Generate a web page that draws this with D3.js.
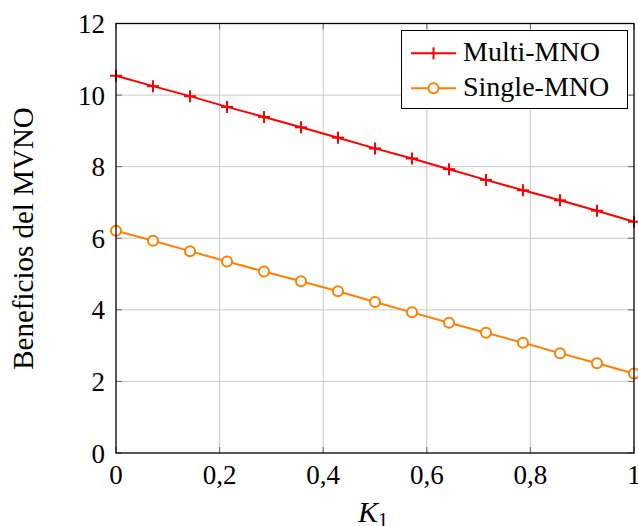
<!DOCTYPE html>
<html>
<head>
<meta charset="utf-8">
<script src="https://cdn.jsdelivr.net/npm/d3@7"></script>
<style>
body { margin: 0; background: #fff; }
</style>
</head>
<body>
<svg width="638" height="526" font-family="'Liberation Serif', 'Times New Roman', 'DejaVu Serif', serif"></svg>
<script>
var xValues = [0, 1/14, 2/14, 3/14, 4/14, 5/14, 6/14, 7/14, 8/14, 9/14, 10/14, 11/14, 12/14, 13/14, 1];
var multiMNO = [10.54, 10.25, 9.97, 9.67, 9.39, 9.10, 8.81, 8.51, 8.23, 7.93, 7.63, 7.34, 7.06, 6.77, 6.46];
var singleMNO = [6.21, 5.93, 5.64, 5.35, 5.07, 4.80, 4.52, 4.22, 3.93, 3.64, 3.36, 3.08, 2.79, 2.51, 2.22];
var xTicks = [0, 0.2, 0.4, 0.6, 0.8, 1];
var yTicks = [0, 2, 4, 6, 8, 10, 12];
var seriesNames = ["Multi-MNO", "Single-MNO"];

var svg = d3.select("svg");
var plotLeft = 116, plotRight = 634, plotTop = 23.5, plotBottom = 453;

var x = d3.scaleLinear().domain([0, 1]).range([plotLeft, plotRight]);
var y = d3.scaleLinear().domain([0, 12]).range([plotBottom, plotTop]);

var fmt = function(d) { return String(d).replace(".", ","); };

// grid
svg.append("g").selectAll("line").data(xTicks.slice(1, -1)).enter().append("line")
	.attr("x1", function(d) { return x(d); }).attr("x2", function(d) { return x(d); })
	.attr("y1", plotTop).attr("y2", plotBottom)
	.style("stroke", "#c8c8c8").style("stroke-width", 1);
svg.append("g").selectAll("line").data(yTicks.slice(1, -1)).enter().append("line")
	.attr("y1", function(d) { return y(d); }).attr("y2", function(d) { return y(d); })
	.attr("x1", plotLeft).attr("x2", plotRight)
	.style("stroke", "#c8c8c8").style("stroke-width", 1);

// inner ticks
var tickLen = 6;
var tk = svg.append("g").style("stroke", "#666").style("stroke-width", 1);
xTicks.forEach(function(d) {
	tk.append("line").attr("x1", x(d)).attr("x2", x(d)).attr("y1", plotBottom).attr("y2", plotBottom - tickLen);
	tk.append("line").attr("x1", x(d)).attr("x2", x(d)).attr("y1", plotTop).attr("y2", plotTop + tickLen);
});
yTicks.forEach(function(d) {
	tk.append("line").attr("y1", y(d)).attr("y2", y(d)).attr("x1", plotLeft).attr("x2", plotLeft + tickLen);
	tk.append("line").attr("y1", y(d)).attr("y2", y(d)).attr("x1", plotRight).attr("x2", plotRight - tickLen);
});

// tick labels
svg.append("g").selectAll("text").data(xTicks).enter().append("text")
	.attr("x", function(d) { return x(d); }).attr("y", plotBottom + 31)
	.attr("text-anchor", "middle").attr("font-size", 27)
	.text(fmt);
svg.append("g").selectAll("text").data(yTicks).enter().append("text")
	.attr("x", plotLeft - 11).attr("y", function(d) { return y(d) + 9.5; })
	.attr("text-anchor", "end").attr("font-size", 27)
	.text(fmt);

// lines
var line = d3.line()
	.x(function(d, i) { return x(xValues[i]); })
	.y(function(d) { return y(d); });

svg.append("path").datum(multiMNO).attr("d", line)
	.style("fill", "none").style("stroke", "#ff0000").style("stroke-width", 2);
svg.append("path").datum(singleMNO).attr("d", line)
	.style("fill", "none").style("stroke", "#ff8000").style("stroke-width", 2);

// markers
var plus = svg.append("g").style("stroke", "#ff0000").style("stroke-width", 2);
multiMNO.forEach(function(d, i) {
	plus.append("line").attr("x1", x(xValues[i])).attr("x2", x(xValues[i]))
		.attr("y1", y(d) - 6).attr("y2", y(d) + 6);
	plus.append("line").attr("x1", x(xValues[i]) - 6).attr("x2", x(xValues[i]) + 6)
		.attr("y1", y(d)).attr("y2", y(d));
});
svg.append("g").selectAll("circle").data(singleMNO).enter().append("circle")
	.attr("cx", function(d, i) { return x(xValues[i]); })
	.attr("cy", function(d) { return y(d); })
	.attr("r", 5)
	.style("fill", "#fff").style("stroke", "#ff8000").style("stroke-width", 2);

// frame
svg.append("rect").attr("x", plotLeft).attr("y", plotTop)
	.attr("width", plotRight - plotLeft).attr("height", plotBottom - plotTop)
	.style("fill", "none").style("stroke", "#000").style("stroke-width", 1.3);

// legend
var lg = svg.append("g");
lg.append("rect").attr("x", 401.5).attr("y", 30.5).attr("width", 226).attr("height", 78)
	.style("fill", "#fff").style("stroke", "#000").style("stroke-width", 1);
var rows = [53.3, 88.3];
var colors = ["#ff0000", "#ff8000"];
seriesNames.forEach(function(name, i) {
	lg.append("line").attr("x1", 411).attr("x2", 456).attr("y1", rows[i]).attr("y2", rows[i])
		.style("stroke", colors[i]).style("stroke-width", 2);
	if (i == 0) {
		lg.append("line").attr("x1", 433.5).attr("x2", 433.5).attr("y1", rows[i] - 6).attr("y2", rows[i] + 6)
			.style("stroke", colors[i]).style("stroke-width", 2);
	} else {
		lg.append("circle").attr("cx", 433.5).attr("cy", rows[i]).attr("r", 5)
			.style("fill", "#fff").style("stroke", colors[i]).style("stroke-width", 2);
	}
	lg.append("text").attr("x", 463).attr("y", rows[i] + 7.5).attr("font-size", 28).text(name);
});

// axis labels
svg.append("text").attr("transform", "translate(33,238.5) rotate(-90)")
	.attr("text-anchor", "middle").attr("font-size", 29).text("Beneficios del MVNO");
var xl = svg.append("text").attr("x", 373).attr("y", 522).attr("text-anchor", "middle").attr("font-size", 30);
xl.append("tspan").style("font-style", "italic").text("K");
xl.append("tspan").attr("font-size", 20).attr("dy", 5).text("1");
</script>
</body>
</html>
